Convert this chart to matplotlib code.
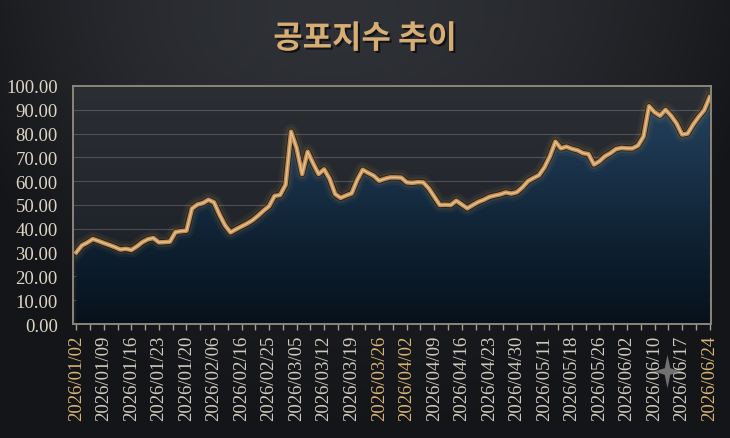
import numpy as np
import matplotlib
matplotlib.use('Agg')
import matplotlib.pyplot as plt
from matplotlib.colors import LinearSegmentedColormap
from matplotlib.path import Path
import matplotlib.patheffects as pe

# ---------------- data ----------------
values = [
    30.1, 33.0, 34.2, 35.7, 34.9, 34.0, 33.2, 32.3, 31.3, 31.6,
    31.1, 32.6, 34.4, 35.6, 36.1, 34.3, 34.4, 34.6, 38.6, 39.0,
    39.2, 48.5, 50.2, 50.8, 52.2, 51.1, 46.0, 41.5, 38.5, 39.8,
    41.0, 42.2, 43.6, 45.5, 47.6, 49.5, 53.8, 54.2, 58.5, 80.8,
    74.0, 63.0, 72.4, 67.5, 63.0, 65.0, 61.0, 54.6, 53.0, 54.0,
    54.9, 60.5, 64.8, 63.5, 62.3, 60.2, 61.0, 61.6, 61.6, 61.5,
    59.5, 59.3, 59.6, 59.5, 57.0, 53.5, 50.0, 50.1, 50.0, 51.8,
    50.2, 48.6, 50.0, 51.3, 52.2, 53.4, 54.0, 54.5, 55.3, 54.8,
    55.4, 57.4, 60.0, 61.3, 62.5, 65.8, 70.5, 76.6, 73.8, 74.5,
    73.6, 73.0, 71.8, 71.4, 67.0, 68.4, 70.5, 71.8, 73.5, 74.0,
    73.8, 73.8, 75.0, 78.8, 91.5, 89.0, 87.5, 90.0, 87.5, 84.3,
    79.6, 80.0, 83.8, 87.0, 89.8, 95.3,
]
tick_labels = [
    '2026/01/02', '2026/01/09', '2026/01/16', '2026/01/23', '2026/01/20',
    '2026/02/06', '2026/02/16', '2026/02/25', '2026/03/05', '2026/03/12',
    '2026/03/19', '2026/03/26', '2026/04/02', '2026/04/09', '2026/04/16',
    '2026/04/23', '2026/04/30', '2026/05/11', '2026/05/18', '2026/05/26',
    '2026/06/02', '2026/06/10', '2026/06/17', '2026/06/24',
]
highlight_labels = ['2026/01/02', '2026/03/26', '2026/04/02', '2026/06/24']
y_ticks = [0, 10, 20, 30, 40, 50, 60, 70, 80, 90, 100]
title = '공포지수 추이'

# ---------------- figure ----------------
W, H = 730, 439
fig = plt.figure(figsize=(W / 100, H / 100), dpi=100)

bg = fig.add_axes([0, 0, 1, 1])
bg.axis('off')
yy, xx = np.mgrid[0:1:H * 1j, 0:1:W * 1j]
f = 0.30 * (1 - yy) + 0.45 * np.exp(-((xx - 0.45) / 0.45) ** 2) * np.exp(-((yy - 0.1) / 0.45) ** 2)
f -= 0.25 * (np.abs(xx - 0.5) * 2) ** 3
f = np.clip(f, 0, 1)
dark = np.array([0x14, 0x15, 0x18]) / 255
light = np.array([0x38, 0x3b, 0x41]) / 255
img = dark[None, None, :] * (1 - f[..., None]) + light[None, None, :] * f[..., None]
bg.imshow(img, extent=[0, 1, 0, 1], aspect='auto', origin='upper')
bg.set_xlim(0, 1)
bg.set_ylim(0, 1)

ax = fig.add_axes([73 / W, 1 - 325 / H, (711 - 73) / W, (325 - 87) / H])
n = len(values)
x = np.arange(n)
x0, x1 = -0.6, n - 1 + 0.25
ax.set_xlim(x0, x1)
ax.set_ylim(0, 100)

# axes background gradient
grad = np.linspace(0, 1, 256)[:, None]
bg_cmap = LinearSegmentedColormap.from_list('bgc', ['#161b22', '#23272d', '#2b2e33'])
ax.imshow(grad, extent=[x0, x1, 0, 100], origin='lower', cmap=bg_cmap,
          aspect='auto', zorder=0)

# gridlines
for yv in y_ticks[1:-1]:
    ax.axhline(yv, color='#8a8d92', lw=0.8, alpha=0.4, zorder=1)

# fill with gradient, clipped to the area under the line
verts = [(x[0], 0)] + list(zip(x, values)) + [(x[-1], 0), (x[0], 0)]
codes = [Path.MOVETO] + [Path.LINETO] * (len(verts) - 2) + [Path.CLOSEPOLY]
area = Path(verts, codes)
fill_cmap = LinearSegmentedColormap.from_list('fillc', ['#07111b', '#0e2031', '#1a334b', '#26445f'])
im = ax.imshow(grad, extent=[x0, x1, 0, 100], origin='lower', cmap=fill_cmap,
               aspect='auto', zorder=2)
im.set_clip_path(area, transform=ax.transData)

# line with glow
ax.plot(x, values, color='#f0b860', lw=11, alpha=0.05, zorder=3, solid_joinstyle='round')
ax.plot(x, values, color='#f0b860', lw=7, alpha=0.09, zorder=3, solid_joinstyle='round')
ax.plot(x, values, color='#1a120a', lw=4.4, alpha=0.7, zorder=3, solid_joinstyle='round')
ax.plot(x, values, color='#c38f57', lw=3.2, zorder=4, solid_joinstyle='round')
ax.plot(x, values, color='#e6c08a', lw=1.1, zorder=5, solid_joinstyle='round')

# spines
for s in ax.spines.values():
    s.set_color('#8c8578')
    s.set_linewidth(1.4)
    s.set_zorder(6)

# ticks
major = np.arange(0, n, 5)
ax.set_xticks(major)
ax.set_xticks(major[:-1] + 2.5, minor=True)
ax.set_xticklabels(tick_labels, rotation=90, fontsize=13.5,
                   family=['Liberation Serif', 'DejaVu Serif'])
for lbl in ax.get_xticklabels():
    lbl.set_color('#d9b475' if lbl.get_text() in highlight_labels else '#d2ccbf')
ax.tick_params(axis='x', which='both', length=4, width=1, color='#a59d8e',
               direction='out', pad=4)
ax.set_yticks(y_ticks)
ax.set_yticklabels([f'{v:.2f}' for v in y_ticks], fontsize=13.5,
                   family=['Liberation Serif', 'DejaVu Serif'], color='#ddd5c5')
ax.tick_params(axis='y', length=0, pad=11)

# title
fig.text(0.5, 1 - 40 / H, title, ha='center', va='center', fontsize=23,
         fontweight='bold', family=['Noto Sans CJK KR', 'DejaVu Sans'], color='#d6ad74',
         path_effects=[pe.withSimplePatchShadow(offset=(1.5, -1.5), shadow_rgbFace='black', alpha=0.6)])

# decorative four-point sparkle (drawn as a marker on an overlay)
ov = fig.add_axes([0, 0, 1, 1], zorder=10)
ov.axis('off')
ov.set_xlim(0, 1)
ov.set_ylim(0, 1)
t = np.linspace(0, 2 * np.pi, 9)[:-1]
r = np.where(np.arange(8) % 2 == 0, 1.0, 0.28)
star = list(zip(r * np.sin(t), r * np.cos(t) * 1.2))
star_path = Path(star + [star[0]], [Path.MOVETO] + [Path.LINETO] * 7 + [Path.CLOSEPOLY])
ov.plot([667 / W], [1 - 372 / H], marker=star_path, markersize=24, color='#7c7c7c',
        markeredgewidth=0, alpha=0.9)

fig.savefig('out.png', dpi=100)
